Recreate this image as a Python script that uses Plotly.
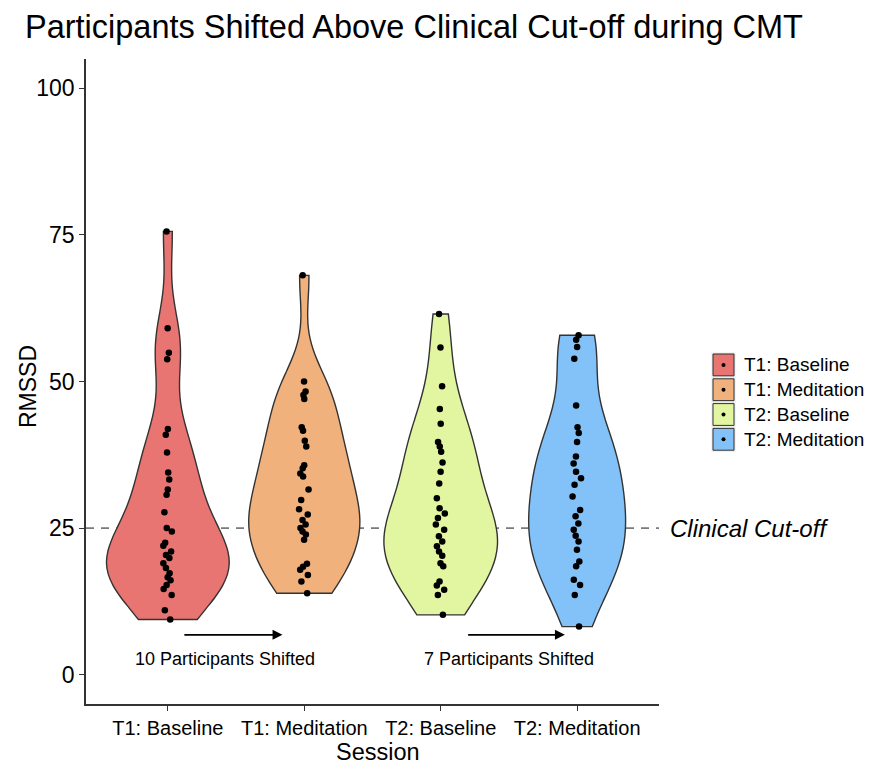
import numpy as np
import plotly.graph_objects as go

# ---------------- data ----------------
sessions = ["T1: Baseline", "T1: Meditation", "T2: Baseline", "T2: Meditation"]
colors = ["#E87571", "#F0B17C", "#E2F5A0", "#82C2F8"]

t1_baseline = [75.6, 59.1, 54.9, 53.8, 41.9, 40.9, 37.9, 34.5, 33.3, 31.6, 30.7, 27.7,
               25.0, 24.4, 22.5, 22.0, 21.0, 20.4, 19.9, 19.0, 18.2, 17.3, 16.6, 16.1,
               15.3, 14.6, 13.6, 11.0, 9.4]
t1_meditation = [68.1, 50.0, 48.3, 47.7, 47.0, 42.2, 41.6, 39.9, 38.9, 35.7, 35.2, 34.3,
                 33.8, 31.6, 29.8, 28.2, 27.3, 26.4, 25.6, 25.0, 24.4, 23.9, 23.0, 18.9,
                 18.4, 17.9, 17.0, 15.9, 13.9]
t2_baseline = [61.5, 55.8, 49.2, 45.3, 42.8, 39.7, 38.9, 38.0, 36.2, 34.6, 32.6, 30.1,
               28.4, 27.5, 26.7, 25.6, 24.7, 23.6, 22.7, 21.9, 21.0, 20.3, 19.0, 18.5,
               15.9, 15.2, 14.5, 13.6, 10.2]
t2_meditation = [57.9, 57.1, 55.9, 53.9, 45.9, 42.2, 41.2, 39.7, 37.2, 36.0, 34.6, 33.5,
                 32.4, 30.4, 28.1, 27.0, 25.8, 24.7, 23.7, 22.7, 21.3, 19.3, 18.5, 16.2,
                 15.3, 13.6, 8.2]
series = [t1_baseline, t1_meditation, t2_baseline, t2_meditation]

cutoff = 25
y_ticks = [0, 25, 50, 75, 100]
shift_labels = ["10 Participants Shifted", "7 Participants Shifted"]

FONT = "Liberation Sans, Arial, Helvetica, sans-serif"

# ---------------- KDE (ggplot-like: bw.nrd0, area scaling) ----------------
def bw_nrd0(v):
    v = np.asarray(v, float)
    sd = v.std(ddof=1)
    q75, q25 = np.percentile(v, [75, 25])
    lo = min(sd, (q75 - q25) / 1.34)
    return 0.9 * lo * len(v) ** (-0.2)

def max_density(v, bw):
    v = np.asarray(v, float)
    g = np.linspace(v.min(), v.max(), 512)
    d = np.exp(-0.5 * ((g[:, None] - v[None, :]) / bw) ** 2).sum(1) / (len(v) * bw * np.sqrt(2 * np.pi))
    return d.max()

bws = [bw_nrd0(s) for s in series]
maxd = [max_density(s, b) for s, b in zip(series, bws)]
widths = [0.9 * m / max(maxd) for m in maxd]

fig = go.Figure()
for name, vals, col, bw, w in zip(sessions, series, colors, bws, widths):
    fig.add_trace(go.Violin(
        x=[name] * len(vals), y=vals, name=name,
        fillcolor=col, opacity=1,
        line=dict(color="#333333", width=1.4),
        bandwidth=bw, spanmode="hard", scalemode="width", width=w,
        points="all", pointpos=0, jitter=0.1,
        marker=dict(color="black", size=6.5),
        showlegend=False, hoverinfo="y",
    ))

# ---------------- geometry (page has an 8px body offset) ----------------
OFF = 8
W, H = 873 - OFF, 767 - OFF
L = 86 - OFF
R = W - (659 - OFF)
T = 59 - OFF
B = round(H - (704.4 - OFF))
pw, ph = W - L - R, H - T - B
def px(x):  # reference screen x -> paper
    return (x - OFF - L) / pw
def py(y):  # reference screen y -> paper
    return (H - B - (y - OFF)) / ph

shapes = [dict(type="line", xref="paper", yref="y", x0=0, x1=1, y0=cutoff, y1=cutoff,
               line=dict(color="#7a7a7a", width=1.7, dash="8px,7px"), layer="below")]

annotations = [
    dict(xref="paper", yref="y", x=px(668), y=cutoff, text="<i>Clinical Cut-off</i>",
         showarrow=False, xanchor="left", yanchor="middle",
         font=dict(family=FONT, size=24, color="black")),
    # axis titles
    dict(xref="paper", yref="paper", x=px(28), y=py(387), text="RMSSD", textangle=-90,
         showarrow=False, xanchor="center", yanchor="middle",
         font=dict(family=FONT, size=23, color="black")),
    dict(xref="paper", yref="paper", x=px(378), y=py(752), text="Session",
         showarrow=False, xanchor="center", yanchor="middle",
         font=dict(family=FONT, size=23.5, color="black")),
    # arrows
    dict(xref="x", yref="y", axref="x", ayref="y", x=0.84, y=6.8, ax=0.11, ay=6.8,
         text="", showarrow=True, arrowhead=2, arrowsize=1.1, arrowwidth=1.8, arrowcolor="black"),
    dict(xref="x", yref="y", axref="x", ayref="y", x=2.91, y=6.8, ax=2.19, ay=6.8,
         text="", showarrow=True, arrowhead=2, arrowsize=1.1, arrowwidth=1.8, arrowcolor="black"),
    dict(xref="x", yref="y", x=0.42, y=2.7, text=shift_labels[0], showarrow=False,
         font=dict(family=FONT, size=18, color="black")),
    dict(xref="x", yref="y", x=2.5, y=2.7, text=shift_labels[1], showarrow=False,
         font=dict(family=FONT, size=18, color="black")),
]

# manual legend
key_x0, key_x1 = 711.5, 735.5
key_top, key_h = 352.5, 24.8
for i, (name, col) in enumerate(zip(sessions, colors)):
    y0 = key_top + i * key_h
    y1 = y0 + key_h
    shapes.append(dict(type="rect", xref="paper", yref="paper",
                       x0=px(key_x0), x1=px(key_x1), y0=py(y1), y1=py(y0),
                       fillcolor="#e9e9e9", line=dict(width=0)))
    shapes.append(dict(type="rect", xref="paper", yref="paper",
                       x0=px(key_x0 + 1.5), x1=px(key_x1 - 1.5), y0=py(y1 - 1.5), y1=py(y0 + 1.5),
                       fillcolor=col, line=dict(color="#333333", width=1)))
    cx, cy = (key_x0 + key_x1) / 2, (y0 + y1) / 2
    shapes.append(dict(type="circle", xref="paper", yref="paper",
                       x0=px(cx - 2), x1=px(cx + 2), y0=py(cy + 2), y1=py(cy - 2),
                       fillcolor="black", line=dict(width=0)))
    annotations.append(dict(xref="paper", yref="paper", x=px(741.5), y=py(cy),
                            text=name, showarrow=False, xanchor="left", yanchor="middle",
                            font=dict(family=FONT, size=19, color="black")))

fig.update_layout(
    width=W, height=H,
    margin=dict(l=L, r=R, t=T, b=B, pad=0, autoexpand=False),
    paper_bgcolor="white", plot_bgcolor="white",
    font=dict(family=FONT, color="black"),
    title=dict(text="Participants Shifted Above Clinical Cut-off during CMT",
               xref="container", yref="container", x=(25 - OFF) / W, xanchor="left",
               y=1 - (27 - OFF) / H, yanchor="middle",
               font=dict(family=FONT, size=32.5, color="black")),
    xaxis=dict(type="category", categoryorder="array", categoryarray=sessions,
               range=[-0.6, 3.6], showgrid=False, zeroline=False, automargin=False,
               showline=True, linecolor="#333333", linewidth=1.6,
               ticks="outside", ticklen=5, tickcolor="#333333", tickwidth=1.3,
               tickfont=dict(family=FONT, size=20, color="black")),
    yaxis=dict(range=[-5, 105], tickvals=y_ticks, showgrid=False, zeroline=False, automargin=False,
               showline=True, linecolor="#333333", linewidth=1.6,
               ticks="outside", ticklen=5, tickcolor="#333333", tickwidth=1.3,
               tickfont=dict(family=FONT, size=23, color="black")),
    shapes=shapes, annotations=annotations,
    violinmode="overlay",
)

fig.write_html("out.html")
